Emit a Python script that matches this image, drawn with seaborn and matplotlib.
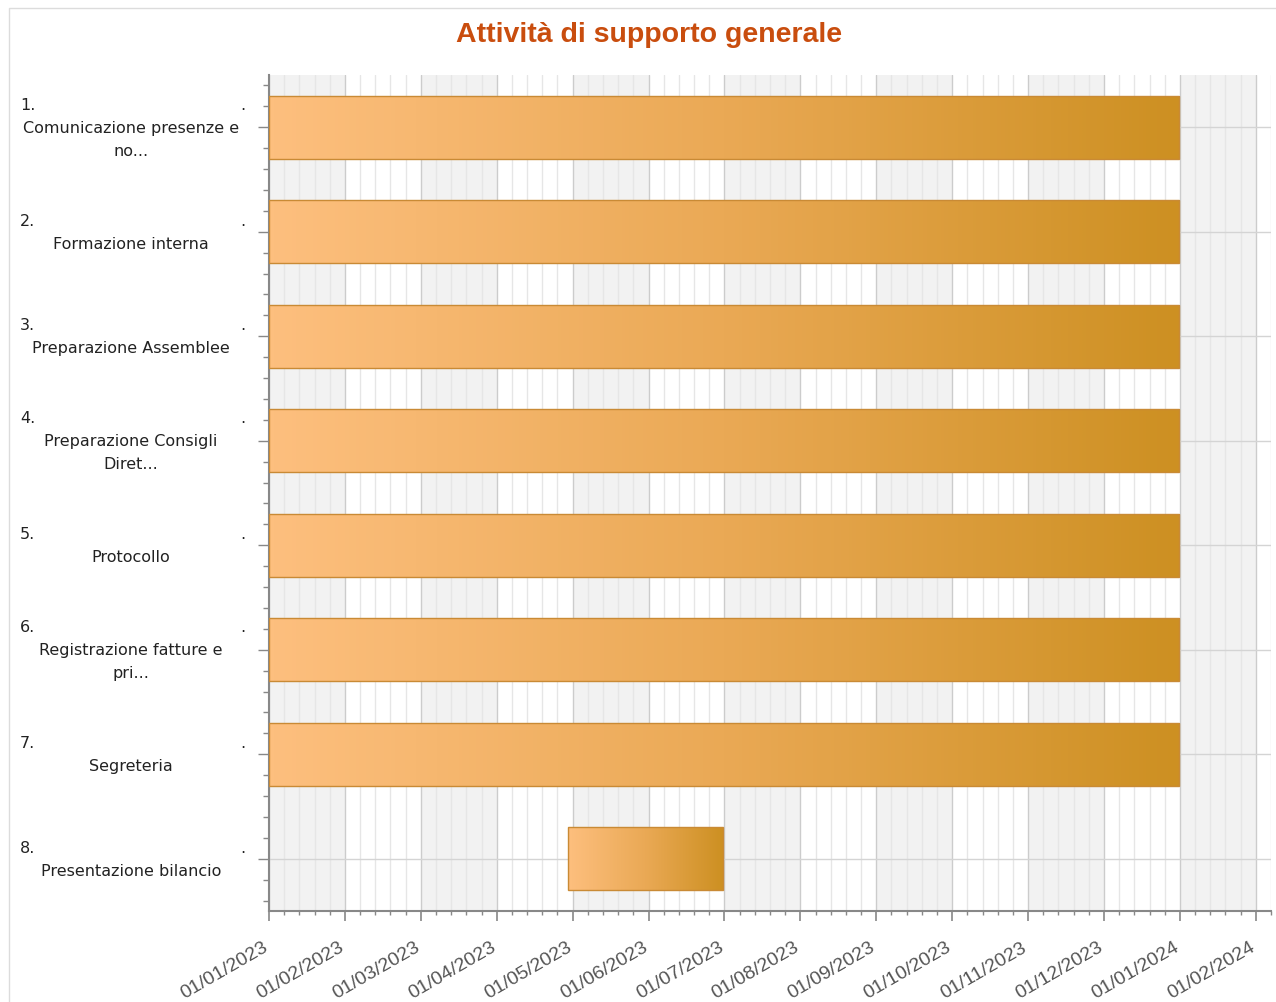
import numpy as np
import pandas as pd
import matplotlib
matplotlib.use('Agg')
import matplotlib.pyplot as plt
import matplotlib.dates as mdates
import matplotlib.transforms as mtransforms
from matplotlib.colors import LinearSegmentedColormap
from matplotlib.patches import Rectangle
import seaborn as sns

# dati del Gantt
numeri = ['1.', '2.', '3.', '4.', '5.', '6.', '7.', '8.']
attivita = ['Comunicazione presenze e\nno...', 'Formazione interna', 'Preparazione Assemblee',
            'Preparazione Consigli\nDiret...', 'Protocollo', 'Registrazione fatture e\npri...',
            'Segreteria', 'Presentazione bilancio']
inizio = ['2023-01-01', '2023-01-01', '2023-01-01', '2023-01-01',
          '2023-01-01', '2023-01-01', '2023-01-01', '2023-05-01']
fine = ['2024-01-01', '2024-01-01', '2024-01-01', '2024-01-01',
        '2024-01-01', '2024-01-01', '2024-01-01', '2023-07-02']
etichette_x = ['01/01/2023', '01/02/2023', '01/03/2023', '01/04/2023', '01/05/2023',
               '01/06/2023', '01/07/2023', '01/08/2023', '01/09/2023', '01/10/2023',
               '01/11/2023', '01/12/2023', '01/01/2024', '01/02/2024']

df = pd.DataFrame({'task': attivita,
                   'start': mdates.date2num(pd.to_datetime(inizio)),
                   'end': mdates.date2num(pd.to_datetime(fine))})
df['durata'] = df['end'] - df['start']

sns.set_theme(style='white')
plt.rcParams['font.family'] = ['DejaVu Sans']

fig = plt.figure(figsize=(12.76, 10.03), dpi=100)
ax = fig.add_axes([269 / 1276, 91 / 1003, 1002 / 1276, 836 / 1003])

sns.barplot(data=df, x='durata', y='task', orient='h', width=0.6, errorbar=None,
            color='#f0b060', saturation=1, ax=ax)
barre = list(ax.patches)

# sposta le barre sulla data di inizio e applica il gradiente
cmap = LinearSegmentedColormap.from_list('arancio', ['#fdbf7e', '#eaa955', '#cd9022'])
grad = np.linspace(0, 1, 256).reshape(1, -1)
for p, s in zip(barre, df['start']):
    p.set_x(s)
    p.set_facecolor('none')
    p.set_edgecolor('#c98a35')
    p.set_linewidth(1.0)
    p.set_zorder(4)
    x0, w, y0, h = p.get_x(), p.get_width(), p.get_y(), p.get_height()
    im = ax.imshow(grad, cmap=cmap, extent=[x0, x0 + w, y0 + h, y0], aspect='auto',
                   zorder=3, interpolation='bilinear')
    im.set_clip_path(p)

# scala temporale: mesi di uguale ampiezza
base = df['start'].min()
mese = 365.25 / 12
maggiori = base + np.arange(len(etichette_x)) * mese
minori = base + np.arange(0, 5 * (len(etichette_x) - 1) + 2) * mese / 5

# bande alternate
for k in range(0, len(etichette_x), 2):
    ax.axvspan(maggiori[k], maggiori[k] + mese, color='#f2f2f2', zorder=0, lw=0)

ax.set_xticks(maggiori)
ax.set_xticks(minori, minor=True)
ax.set_xticklabels(etichette_x)
ax.set_yticks(range(len(attivita)))
ax.set_yticks(np.arange(-0.4, len(attivita) - 0.5, 0.2), minor=True)
ax.set_yticklabels([])
ax.set_xlabel('')
ax.set_ylabel('')
ax.set_xlim(base, base + 13.2 * mese)
ax.set_ylim(len(attivita) - 0.5, -0.5)

for lab in ax.get_xticklabels():
    lab.set_rotation(30)
    lab.set_ha('right')
    lab.set_va('baseline')
    lab.set_rotation_mode('anchor')
    lab.set_family('Liberation Sans')
    lab.set_fontsize(14)
    lab.set_color('#555555')

ax.tick_params(axis='x', which='major', length=7.2, width=1.2, color='#888888', pad=20.5, bottom=True)
ax.tick_params(axis='x', which='minor', length=3, width=1, color='#888888', bottom=True)
ax.tick_params(axis='y', which='major', length=8, width=1, color='#888888', left=True)
ax.tick_params(axis='y', which='minor', length=4.3, width=1, color='#888888', left=True)

ax.grid(True, axis='x', which='major', color='#cccccc', lw=1, zorder=1)
ax.grid(True, axis='x', which='minor', color='#e6e6e6', lw=1, zorder=1)
ax.grid(True, axis='y', which='major', color='#d4d4d4', lw=1, zorder=1)
ax.set_axisbelow(True)

for lato in ['top', 'right']:
    ax.spines[lato].set_visible(False)
for lato in ['left', 'bottom']:
    ax.spines[lato].set_color('#888888')
    ax.spines[lato].set_linewidth(1.5)

# etichette delle attività
tr = mtransforms.blended_transform_factory(fig.transFigure, ax.transData)
for i, (n, t) in enumerate(zip(numeri, attivita)):
    righe = [n] + t.split('\n')
    m = len(righe)
    for j, r in enumerate(righe):
        off = -(j - (m - 1) / 2) * 23 / 100
        trj = tr + mtransforms.ScaledTranslation(0, off, fig.dpi_scale_trans)
        if j == 0:
            ax.text(20 / 1276, i, r, transform=trj, ha='left', va='center',
                    fontsize=11.5, color='#222222', clip_on=False)
            ax.text(243 / 1276, i, '.', transform=trj, ha='center', va='center',
                    fontsize=11.5, color='#222222', clip_on=False)
        else:
            ax.text(131 / 1276, i, r, transform=trj, ha='center', va='center',
                    fontsize=11.5, color='#222222', clip_on=False)

fig.text(649 / 1276, 1 - 35 / 1003, 'Attività di supporto generale', ha='center', va='center',
         fontsize=20.5, fontweight='bold', color='#c94d0e', family='Liberation Sans')

# cornice leggera
fig.patches.append(Rectangle((8.5 / 1276, -0.05), 1.1, 1 - 8.5 / 1003 + 0.05,
                             transform=fig.transFigure, fill=False, edgecolor='#dcdcdc', lw=1))

fig.savefig('out.png', dpi=100)
